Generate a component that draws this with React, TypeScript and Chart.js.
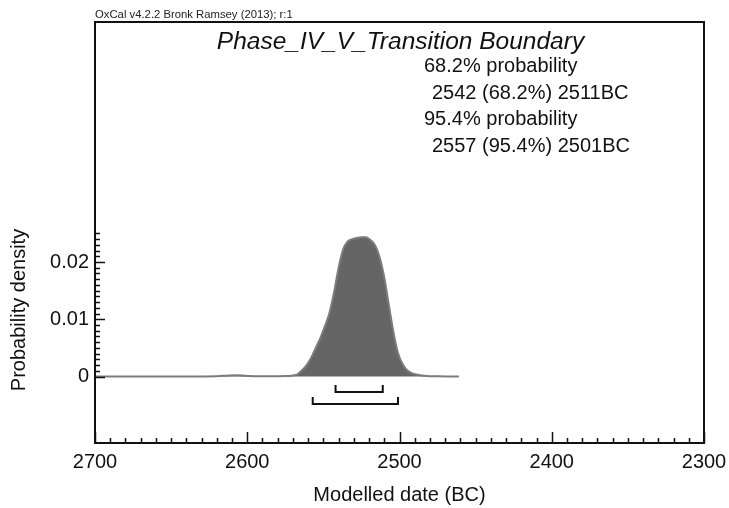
import { useEffect, useRef } from 'react';
import { Chart, registerables } from 'chart.js';

Chart.register(...registerables);

// Modelled boundary date (BC) and its posterior probability density
const dates = [
  2700, 2640, 2620, 2612, 2606, 2598, 2585, 2575, 2570, 2567, 2564, 2561, 2558, 2555, 2552,
  2549, 2546, 2543, 2540, 2537, 2534, 2531, 2528, 2525, 2522, 2519, 2516, 2513, 2510, 2507,
  2504, 2501, 2498, 2495, 2492, 2488, 2482, 2475, 2468, 2461,
];
const density = [
  0, 0, 0.00005, 0.0002, 0.00022, 0.0001, 0.00005, 0.00008, 0.0002, 0.0004, 0.0011, 0.002,
  0.0033, 0.005, 0.0067, 0.0088, 0.0111, 0.0147, 0.019, 0.0222, 0.0236, 0.024, 0.0242,
  0.0243, 0.0243, 0.0238, 0.0229, 0.0208, 0.0173, 0.0125, 0.0078, 0.0041, 0.0022, 0.0011,
  0.0006, 0.0003, 0.0001, 0.00005, 0.00002, 0,
];

// Highest posterior density ranges (BC)
const range68 = [2542, 2511];
const range95 = [2557, 2501];

// Axis ticks
const xMajorTicks = [2700, 2600, 2500, 2400, 2300];
const xMinorStep = 10;
const yTickLabels = [0, 0.01, 0.02];
const yMinorStep = 0.001;
const yMinorCount = 25;

const headerText = 'OxCal v4.2.2 Bronk Ramsey (2013); r:1';
const titleText = 'Phase_IV_V_Transition Boundary';
const xTitle = 'Modelled date (BC)';
const yTitle = 'Probability density';

const FONT = '"Liberation Sans", Arial, Helvetica, sans-serif';

const annotations = {
  id: 'oxcalAnnotations',
  afterDraw(chart: any) {
    const ctx: CanvasRenderingContext2D = chart.ctx;
    const { left, right, top, bottom } = chart.chartArea;
    const xs = chart.scales.x;
    const ys = chart.scales.y;
    ctx.save();

    // frame
    ctx.strokeStyle = '#111';
    ctx.lineWidth = 2;
    ctx.strokeRect(left, top, right - left, bottom - top);

    // x ticks, pointing up from the bottom edge
    ctx.lineWidth = 1.5;
    ctx.beginPath();
    const xMin = Math.min(...xMajorTicks);
    const xMax = Math.max(...xMajorTicks);
    for (let v = xMin; v <= xMax; v += xMinorStep) {
      const px = Math.round(xs.getPixelForValue(v)) + 0.5;
      const len = xMajorTicks.includes(v) ? 11 : 5;
      ctx.moveTo(px, bottom);
      ctx.lineTo(px, bottom - len);
    }
    ctx.stroke();

    // y ticks, pointing right from the left edge
    ctx.beginPath();
    for (let i = 0; i <= yMinorCount; i++) {
      const v = Math.round(i * yMinorStep * 1000) / 1000;
      const py = Math.round(ys.getPixelForValue(v)) + 0.5;
      const len = yTickLabels.includes(v) ? 10 : 5;
      ctx.moveTo(left, py);
      ctx.lineTo(left + len, py);
    }
    ctx.stroke();

    // range brackets under the curve
    const zeroY = ys.getPixelForValue(0);
    ctx.lineWidth = 2;
    ctx.strokeStyle = '#111';
    [
      { r: range68, off: 15 },
      { r: range95, off: 27 },
    ].forEach(({ r, off }) => {
      const x1 = xs.getPixelForValue(r[0]);
      const x2 = xs.getPixelForValue(r[1]);
      const y = Math.round(zeroY + off);
      ctx.beginPath();
      ctx.moveTo(x1, y - 7);
      ctx.lineTo(x1, y);
      ctx.lineTo(x2, y);
      ctx.lineTo(x2, y - 7);
      ctx.stroke();
    });

    // header
    ctx.fillStyle = '#222';
    ctx.font = `11.3px ${FONT}`;
    ctx.textAlign = 'left';
    ctx.textBaseline = 'alphabetic';
    ctx.fillText(headerText, left, 18);

    // title
    ctx.fillStyle = '#111';
    ctx.font = `italic 24.5px ${FONT}`;
    ctx.textAlign = 'center';
    ctx.fillText(titleText, (left + right) / 2 + 1, 49);

    // range summary
    ctx.font = `20px ${FONT}`;
    ctx.textAlign = 'left';
    const lines = [
      { t: '68.2% probability', x: 424, y: 72 },
      { t: `${range68[0]} (68.2%) ${range68[1]}BC`, x: 432, y: 98.5 },
      { t: '95.4% probability', x: 424, y: 125 },
      { t: `${range95[0]} (95.4%) ${range95[1]}BC`, x: 432, y: 152 },
    ];
    lines.forEach((l) => ctx.fillText(l.t, l.x, l.y));

    // y axis title
    ctx.save();
    ctx.translate(19, 310);
    ctx.rotate(-Math.PI / 2);
    ctx.textAlign = 'center';
    ctx.textBaseline = 'middle';
    ctx.fillText(yTitle, 0, 0);
    ctx.restore();

    ctx.restore();
  },
};

export default function App() {
  const canvasRef = useRef<HTMLCanvasElement | null>(null);

  useEffect(() => {
    if (!canvasRef.current) return;
    const chart = new Chart(canvasRef.current, {
      type: 'line',
      data: {
        datasets: [
          {
            data: dates.map((d, i) => ({ x: d, y: density[i] })),
            fill: 'origin',
            backgroundColor: '#656565',
            borderColor: '#7c7c7c',
            borderWidth: 2,
            pointRadius: 0,
            cubicInterpolationMode: 'monotone',
          },
        ],
      },
      options: {
        animation: false,
        responsive: false,
        devicePixelRatio: 1,
        layout: { padding: { top: 22, right: 25, left: 0, bottom: 0 } },
        plugins: {
          legend: { display: false },
          tooltip: { enabled: false },
        },
        scales: {
          x: {
            type: 'linear',
            min: 2300,
            max: 2700,
            reverse: true,
            grid: { display: false, drawTicks: false },
            border: { display: false },
            ticks: {
              stepSize: 100,
              maxRotation: 0,
              autoSkip: false,
              padding: 7,
              color: '#111',
              font: { family: FONT, size: 20 },
              callback: (v: any) => (xMajorTicks.includes(Number(v)) ? String(v) : ''),
            },
            title: {
              display: true,
              text: xTitle,
              color: '#111',
              font: { family: FONT, size: 20 },
              padding: { top: 0, bottom: 1 },
            },
            afterFit: (scale: any) => {
              scale.height = 65;
              scale.paddingLeft = 0;
              scale.paddingRight = 0;
            },
          },
          y: {
            type: 'linear',
            min: -0.0116,
            max: 0.0619,
            grid: { display: false, drawTicks: false },
            border: { display: false },
            ticks: {
              stepSize: 0.01,
              padding: 6,
              color: '#111',
              font: { family: FONT, size: 20 },
              callback: (v: any) => {
                const r = Math.round(Number(v) * 1000) / 1000;
                return yTickLabels.includes(r) ? String(r) : '';
              },
            },
            afterFit: (scale: any) => {
              scale.width = 95;
              scale.paddingTop = 0;
              scale.paddingBottom = 0;
            },
          },
        },
      },
      plugins: [annotations],
    });
    return () => chart.destroy();
  }, []);

  return (
    <div style={{ position: 'fixed', left: 0, top: 0, width: 729, height: 508, background: '#fff' }}>
      <canvas ref={canvasRef} width={729} height={508} />
    </div>
  );
}
